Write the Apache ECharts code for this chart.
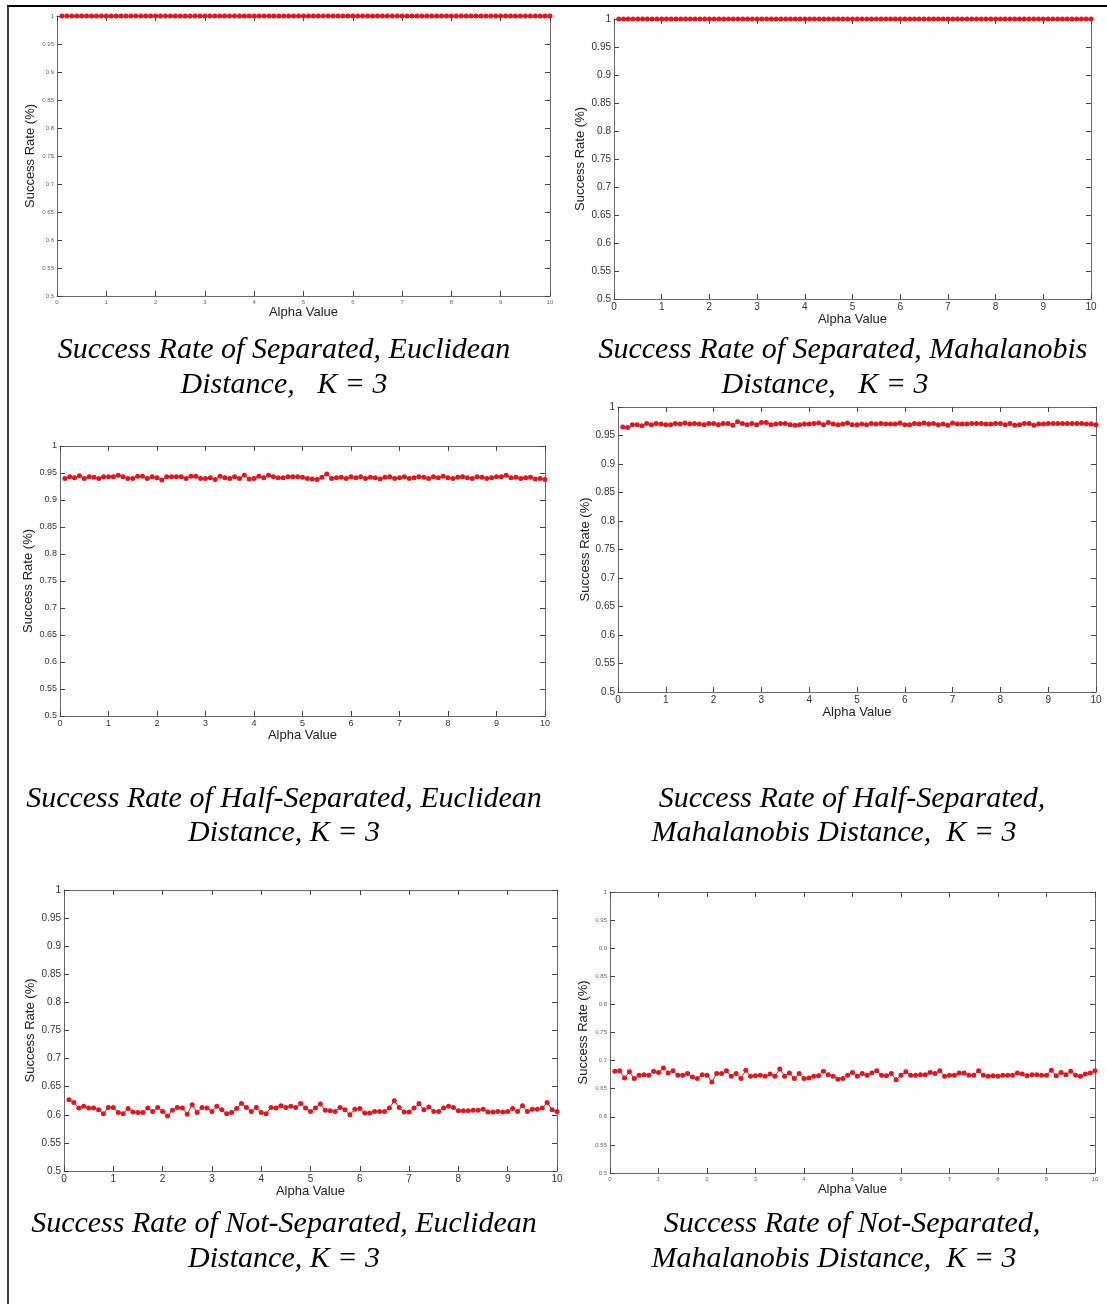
<!DOCTYPE html>
<html><head><meta charset="utf-8">
<script src="https://cdn.jsdelivr.net/npm/echarts@6/dist/echarts.min.js"></script>
<style>html,body{margin:0;padding:0;background:#fff}#c{width:1107px;height:1304px}</style>
</head><body><div id="c"></div>
<script>
// ---------- DATA ----------
const alpha = [0.1,0.2,0.3,0.4,0.5,0.6,0.7,0.8,0.9,1.0,
1.1,1.2,1.3,1.4,1.5,1.6,1.7,1.8,1.9,2.0,
2.1,2.2,2.3,2.4,2.5,2.6,2.7,2.8,2.9,3.0,
3.1,3.2,3.3,3.4,3.5,3.6,3.7,3.8,3.9,4.0,
4.1,4.2,4.3,4.4,4.5,4.6,4.7,4.8,4.9,5.0,
5.1,5.2,5.3,5.4,5.5,5.6,5.7,5.8,5.9,6.0,
6.1,6.2,6.3,6.4,6.5,6.6,6.7,6.8,6.9,7.0,
7.1,7.2,7.3,7.4,7.5,7.6,7.7,7.8,7.9,8.0,
8.1,8.2,8.3,8.4,8.5,8.6,8.7,8.8,8.9,9.0,
9.1,9.2,9.3,9.4,9.5,9.6,9.7,9.8,9.9,10.0];

const sepEuclid = [1,1,1,1,1,1,1,1,1,1, 1,1,1,1,1,1,1,1,1,1, 1,1,1,1,1,1,1,1,1,1, 1,1,1,1,1,1,1,1,1,1, 1,1,1,1,1,1,1,1,1,1,
1,1,1,1,1,1,1,1,1,1, 1,1,1,1,1,1,1,1,1,1, 1,1,1,1,1,1,1,1,1,1, 1,1,1,1,1,1,1,1,1,1, 1,1,1,1,1,1,1,1,1,1];
const sepMahal = [1,1,1,1,1,1,1,1,1,1, 1,1,1,1,1,1,1,1,1,1, 1,1,1,1,1,1,1,1,1,1, 1,1,1,1,1,1,1,1,1,1, 1,1,1,1,1,1,1,1,1,1,
1,1,1,1,1,1,1,1,1,1, 1,1,1,1,1,1,1,1,1,1, 1,1,1,1,1,1,1,1,1,1, 1,1,1,1,1,1,1,1,1,1, 1,1,1,1,1,1,1,1,1,1];
const halfEuclid = [0.940,0.943,0.941,0.945,0.940,0.943,0.942,0.940,0.943,0.943,
0.943,0.946,0.943,0.940,0.940,0.944,0.944,0.940,0.943,0.941,
0.937,0.943,0.943,0.943,0.943,0.940,0.944,0.944,0.940,0.940,
0.941,0.938,0.944,0.941,0.940,0.943,0.940,0.946,0.939,0.940,
0.944,0.941,0.946,0.943,0.941,0.941,0.943,0.943,0.943,0.942,
0.940,0.939,0.938,0.942,0.948,0.940,0.941,0.942,0.940,0.943,
0.941,0.943,0.940,0.942,0.941,0.939,0.942,0.943,0.940,0.941,
0.943,0.940,0.941,0.943,0.942,0.940,0.943,0.941,0.944,0.941,
0.940,0.942,0.943,0.941,0.940,0.943,0.942,0.940,0.941,0.943,
0.943,0.946,0.941,0.942,0.940,0.941,0.942,0.939,0.940,0.938];
const halfMahal = [0.965,0.964,0.969,0.969,0.967,0.971,0.969,0.971,0.970,0.969,
0.969,0.971,0.970,0.972,0.970,0.971,0.970,0.969,0.971,0.971,
0.969,0.971,0.971,0.968,0.974,0.971,0.969,0.971,0.969,0.973,
0.973,0.969,0.970,0.971,0.971,0.969,0.968,0.969,0.970,0.970,
0.971,0.972,0.969,0.973,0.970,0.969,0.970,0.972,0.969,0.969,
0.970,0.969,0.971,0.970,0.971,0.970,0.970,0.970,0.972,0.969,
0.969,0.971,0.970,0.972,0.970,0.971,0.969,0.970,0.968,0.972,
0.970,0.970,0.970,0.971,0.971,0.971,0.970,0.970,0.971,0.971,
0.969,0.971,0.968,0.969,0.971,0.971,0.968,0.970,0.970,0.971,
0.971,0.971,0.971,0.971,0.971,0.971,0.971,0.970,0.970,0.969];
const notEuclid = [0.627,0.622,0.612,0.615,0.612,0.612,0.609,0.602,0.613,0.613,
0.604,0.602,0.611,0.605,0.604,0.604,0.612,0.606,0.613,0.606,
0.598,0.608,0.613,0.612,0.601,0.618,0.604,0.613,0.612,0.606,
0.615,0.609,0.602,0.604,0.611,0.620,0.613,0.606,0.613,0.604,
0.602,0.613,0.612,0.616,0.613,0.615,0.613,0.620,0.612,0.606,
0.612,0.619,0.608,0.607,0.606,0.613,0.609,0.600,0.610,0.611,
0.603,0.603,0.606,0.606,0.606,0.612,0.625,0.613,0.605,0.605,
0.612,0.620,0.609,0.614,0.606,0.606,0.612,0.615,0.613,0.607,
0.607,0.607,0.608,0.608,0.610,0.605,0.605,0.606,0.605,0.606,
0.611,0.606,0.616,0.606,0.610,0.610,0.612,0.622,0.609,0.606];
const notMahal = [0.681,0.682,0.669,0.680,0.668,0.674,0.675,0.674,0.681,0.679,
0.687,0.678,0.682,0.674,0.674,0.677,0.671,0.668,0.675,0.674,
0.662,0.677,0.677,0.682,0.672,0.677,0.668,0.683,0.672,0.673,
0.674,0.672,0.676,0.672,0.685,0.672,0.678,0.668,0.677,0.668,
0.669,0.672,0.673,0.681,0.675,0.672,0.667,0.668,0.674,0.679,
0.672,0.677,0.674,0.678,0.682,0.674,0.673,0.677,0.666,0.674,
0.680,0.674,0.674,0.675,0.675,0.679,0.677,0.682,0.672,0.674,
0.674,0.678,0.678,0.674,0.674,0.682,0.674,0.672,0.673,0.672,
0.674,0.674,0.674,0.678,0.676,0.673,0.675,0.675,0.674,0.674,
0.683,0.673,0.679,0.675,0.681,0.674,0.672,0.676,0.678,0.682];

const xTickValues = [0,1,2,3,4,5,6,7,8,9,10];
const yTickValues = [0.5,0.55,0.6,0.65,0.7,0.75,0.8,0.85,0.9,0.95,1];
const xAxisName = 'Alpha Value';
const yAxisName = 'Success Rate (%)';
const captions = [
  ['Success Rate of Separated, Euclidean', 'Distance,   K = 3'],
  ['Success Rate of Separated, Mahalanobis', 'Distance,   K = 3'],
  ['Success Rate of Half-Separated, Euclidean', 'Distance, K = 3'],
  ['Success Rate of Half-Separated,', 'Mahalanobis Distance,  K = 3'],
  ['Success Rate of Not-Separated, Euclidean', 'Distance, K = 3'],
  ['Success Rate of Not-Separated,', 'Mahalanobis Distance,  K = 3']
];
const seriesValues = [sepEuclid, sepMahal, halfEuclid, halfMahal, notEuclid, notMahal];

// ---------- LAYOUT ----------
const layout = [
  {grid:{left:57, top:16, width:493, height:280}, tf:6, tc:'#666', xGap:9,  yGap:20, cap:[[284,350],[284,385]]},
  {grid:{left:614,top:19, width:477, height:280}, tf:10,tc:'#333', xGap:14, yGap:27, cap:[[843,350],[825,385]]},
  {grid:{left:60, top:446,width:485, height:270}, tf:9, tc:'#333', xGap:13, yGap:25, cap:[[284,799],[284,833]]},
  {grid:{left:618,top:407,width:478, height:285}, tf:10,tc:'#333', xGap:13, yGap:26, cap:[[852,799],[834,833]]},
  {grid:{left:64, top:890,width:493, height:281}, tf:10,tc:'#333', xGap:12, yGap:27, cap:[[284,1224],[284,1259]]},
  {grid:{left:610,top:892,width:485, height:281}, tf:6, tc:'#666', xGap:9,  yGap:20, cap:[[852,1224],[834,1259]]}
];

const RED = '#e3141b';
const AX = '#6a6a6a';
const FONT = '"Liberation Sans", Arial, sans-serif';
const xMin = xTickValues[0], xMax = xTickValues[xTickValues.length-1], xInt = xTickValues[1]-xTickValues[0];
const yMin = yTickValues[0], yMax = yTickValues[yTickValues.length-1], yInt = 0.05;

const grids = [], xAxes = [], yAxes = [], series = [], graphics = [];
layout.forEach((L, i) => {
  grids.push(Object.assign({containLabel:false}, L.grid));
  const common = {gridIndex:i, type:'value', splitLine:{show:false},
    axisLine:{show:true, onZero:false, lineStyle:{color:AX, width:1}},
    axisTick:{show:true, inside:true, length:5, lineStyle:{color:'#444', width:1}}};
  xAxes.push(Object.assign({}, common, {min:xMin, max:xMax, interval:xInt, position:'bottom',
    axisLabel:{show:true, fontSize:L.tf, color:L.tc, fontFamily:FONT, margin:3},
    name:xAxisName, nameLocation:'middle', nameGap:L.xGap,
    nameTextStyle:{fontSize:13, color:'#222', fontFamily:FONT}}));
  xAxes.push(Object.assign({}, common, {min:xMin, max:xMax, interval:xInt, position:'top',
    axisLabel:{show:false}}));
  yAxes.push(Object.assign({}, common, {min:yMin, max:yMax, interval:yInt, position:'left',
    axisLabel:{show:true, fontSize:L.tf, color:L.tc, fontFamily:FONT, margin:3},
    name:yAxisName, nameLocation:'middle', nameGap:L.yGap,
    nameTextStyle:{fontSize:13, color:'#222', fontFamily:FONT}}));
  yAxes.push(Object.assign({}, common, {min:yMin, max:yMax, interval:yInt, position:'right',
    axisLabel:{show:false}}));
  const vals = seriesValues[i];
  series.push({type:'line', xAxisIndex:2*i, yAxisIndex:2*i,
    data: alpha.map((a,k) => [a, vals[k]]),
    symbol:'circle', symbolSize:5, showSymbol:true, clip:false,
    itemStyle:{color:RED}, lineStyle:{color:RED, width:1}, z:5, animation:false});
  captions[i].forEach((t, j) => {
    graphics.push({type:'text', x:L.cap[j][0], y:L.cap[j][1], z:10,
      style:{text:t, fill:'#000', align:'center', verticalAlign:'middle',
        font:'italic 30px "Liberation Serif", "Times New Roman", serif'}});
  });
});
graphics.push({type:'line', shape:{x1:7, y1:6, x2:1107, y2:6}, style:{stroke:'#000', lineWidth:2}});
graphics.push({type:'line', shape:{x1:8, y1:5, x2:8, y2:1304}, style:{stroke:'#000', lineWidth:1.5}});

const chart = echarts.init(document.getElementById('c'), null, {renderer:'canvas'});
chart.setOption({
  animation:false,
  backgroundColor:'#fff',
  grid:grids, xAxis:xAxes, yAxis:yAxes, series:series, graphic:graphics
});
</script>
</body></html>
